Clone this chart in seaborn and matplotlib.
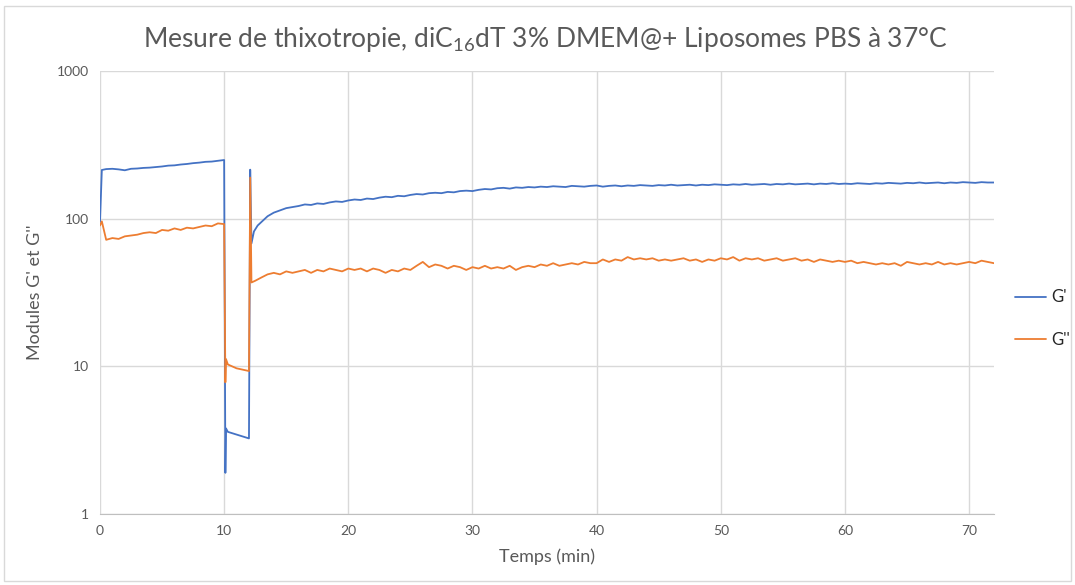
import numpy as np
import pandas as pd
import seaborn as sns
import matplotlib.pyplot as plt
from matplotlib.patches import Rectangle

# ---- data (time in min, moduli in Pa) ----
# first plateau, before the high-shear step
t_start = [0, 0.15, 0.5, 1.0, 1.5, 2.0, 2.5, 3.0, 3.5, 4.0, 4.5, 5.0, 5.5,
           6.0, 6.5, 7.0, 7.5, 8.0, 8.5, 9.0, 9.5, 10.0]
g1_start = [95, 214, 217, 218, 216, 213, 218, 219, 221, 222, 224, 226, 229,
            230, 233, 235, 238, 240, 243, 244, 247, 250]
g2_start = [90, 96, 72, 74, 73, 76, 77, 78, 80, 81, 80, 84, 83,
            86, 84, 87, 86, 88, 90, 89, 93, 92]

# high-shear step and restart
t_step = [10.1, 10.15, 10.3, 11.0, 12.0, 12.1, 12.2, 12.4, 12.7]
g1_step = [1.9, 3.8, 3.6, 3.45, 3.25, 215, 68, 82, 90]
t_step2 = [10.1, 10.15, 10.3, 11.0, 12.0, 12.1, 12.2, 12.5, 12.75]
g2_step = [7.8, 11.2, 10.3, 9.7, 9.3, 190, 37, 38, 39]

# recovery, every 0.5 min from 13 to 72
t_rec = np.arange(13, 72.01, 0.5)
g1_rec = [95, 104, 110, 114, 118, 120, 122, 125, 124, 127, 126, 129, 131, 130, 133,
          135, 134, 137, 136, 139, 141, 140, 143, 142, 145,
          147, 146, 149, 150, 149, 152, 151, 154, 155, 154,
          157, 159, 158, 161, 162, 160, 163, 162, 164, 163,
          165, 164, 166, 165, 164, 167, 166, 165, 167, 168,
          165, 167, 168, 166, 168, 167, 169, 168, 167, 169,
          168, 170, 168, 169, 170, 168, 170, 169, 171, 170,
          169, 171, 170, 172, 170, 171, 172, 170, 172, 171,
          173, 171, 172, 173, 171, 173, 172, 174, 172, 173,
          172, 174, 173, 172, 174, 173, 175, 174, 173, 175,
          174, 176, 174, 175, 176, 174, 176, 175, 177, 176,
          175, 177, 176, 176]
g2_rec = [40, 42, 43, 42, 44, 43, 44, 45, 43, 45, 44, 46, 45, 44, 46,
          45, 46, 44, 46, 45, 43, 45, 44, 46, 45,
          48, 51, 47, 49, 48, 46, 48, 47, 45, 47,
          46, 48, 46, 47, 46, 48, 45, 47, 48, 47,
          49, 48, 50, 48, 49, 50, 49, 51, 50, 50,
          53, 51, 53, 52, 55, 53, 54, 53, 54, 52,
          53, 52, 53, 54, 52, 53, 51, 53, 52, 54,
          53, 55, 52, 54, 53, 54, 52, 53, 54, 52,
          53, 54, 52, 53, 51, 53, 52, 51, 52, 51,
          52, 50, 51, 50, 49, 50, 49, 50, 48, 51,
          50, 49, 50, 49, 51, 49, 50, 49, 50, 51,
          50, 52, 51, 50]

gp = pd.DataFrame({"t": np.concatenate([t_start, t_step, t_rec]),
                   "G": np.concatenate([g1_start, g1_step, g1_rec]),
                   "serie": "G'"})
gpp = pd.DataFrame({"t": np.concatenate([t_start, t_step2, t_rec]),
                    "G": np.concatenate([g2_start, g2_step, g2_rec]),
                    "serie": "G''"})
data = pd.concat([gp, gpp], ignore_index=True)

sns.set_style("white")
plt.rcParams['font.family'] = ['Lato', 'DejaVu Sans']
plt.rcParams['mathtext.fontset'] = 'custom'
plt.rcParams['mathtext.rm'] = 'Lato'
plt.rcParams['mathtext.it'] = 'Lato'

fig = plt.figure(figsize=(10.75, 5.85), dpi=100)
ax = fig.add_axes([0.093, 0.1214, 0.8316, 0.757])

sns.lineplot(data=data, x="t", y="G", hue="serie", estimator=None, sort=False,
             palette={"G'": "#4472C4", "G''": "#ED7D31"}, linewidth=1.3, ax=ax)

ax.set_yscale('log')
ax.set_ylim(1, 1000)
ax.set_xlim(0, 72)
ax.set_xticks(range(0, 71, 10))
ax.set_yticks([1, 10, 100, 1000])
ax.set_yticklabels(['1', '10', '100', '1000'])
ax.minorticks_off()
ax.tick_params(colors='#595959', labelsize=10, length=0, pad=8)
ax.grid(True, color='#d9d9d9', linewidth=1)
for s in ['top', 'right', 'left']:
    ax.spines[s].set_visible(False)
ax.spines['bottom'].set_color('#bfbfbf')

ax.set_xlabel('Temps (min)', fontsize=13, color='#595959', labelpad=8)
ax.set_ylabel("Modules G' et G''", fontsize=13, color='#595959', labelpad=10)
fig.suptitle(r"Mesure de thixotropie, diC$_{16}$dT 3% DMEM@+ Liposomes PBS à 37°C",
             fontsize=19, color='#595959', x=0.507, y=0.958)

ax.legend_.remove()
h, l = ax.get_legend_handles_labels()
fig.legend(h, l, loc='center left', bbox_to_anchor=(0.944, 0.455), frameon=False,
           fontsize=12, handlelength=1.9, labelspacing=1.6, handletextpad=0.3,
           borderpad=0, borderaxespad=0)

fig.patches.append(Rectangle((0.004, 0.006), 0.992, 0.984, transform=fig.transFigure,
                             fill=False, edgecolor='#d9d9d9', linewidth=1))

fig.savefig('out.png', dpi=100)
